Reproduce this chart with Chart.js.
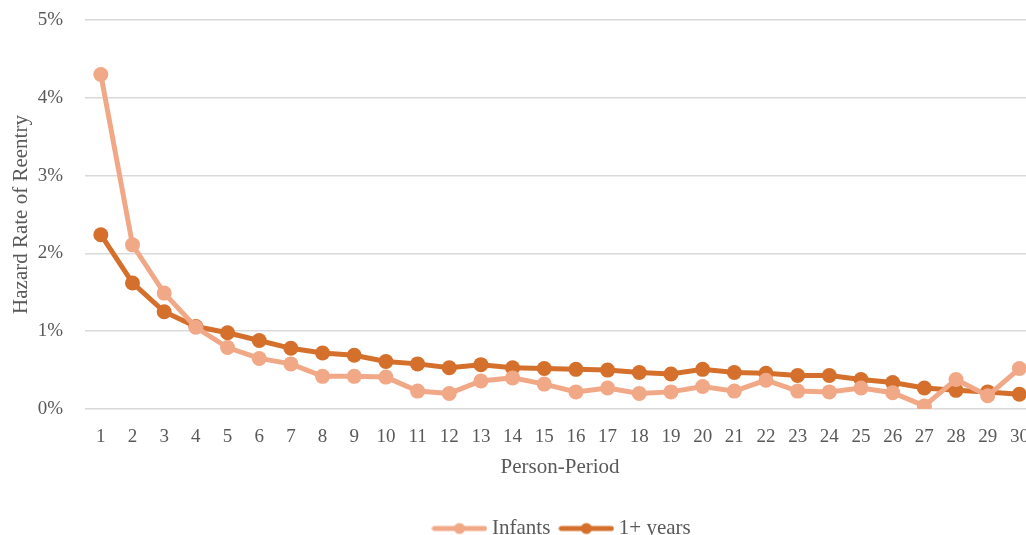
<!DOCTYPE html>
<html>
<head>
<meta charset="utf-8">
<script src="https://cdn.jsdelivr.net/npm/chart.js@4.4.1/dist/chart.umd.min.js"></script>
<style>
    html, body { margin: 0; padding: 0; background: #fff; overflow: hidden; }
    #wrap { position: relative; width: 1046px; height: 549px; }
</style>
</head>
<body>
<div id="wrap"><canvas id="hazardChart"></canvas></div>
<script>
// Person-period categories
const periods = [
    '1', '2', '3', '4', '5', '6', '7', '8', '9', '10',
    '11', '12', '13', '14', '15', '16', '17', '18', '19', '20',
    '21', '22', '23', '24', '25', '26', '27', '28', '29', '30'
];

// Hazard rates (%)
const infants = [
    4.30, 2.11, 1.49, 1.05, 0.79, 0.65, 0.58, 0.42, 0.42, 0.41,
    0.23, 0.20, 0.36, 0.40, 0.32, 0.22, 0.27, 0.20, 0.22, 0.29,
    0.23, 0.37, 0.23, 0.22, 0.27, 0.21, 0.04, 0.38, 0.17, 0.52
];

const oneYearPlus = [
    2.24, 1.62, 1.25, 1.06, 0.98, 0.88, 0.78, 0.72, 0.69, 0.61,
    0.58, 0.53, 0.57, 0.53, 0.52, 0.51, 0.50, 0.47, 0.45, 0.51,
    0.47, 0.46, 0.43, 0.43, 0.38, 0.34, 0.27, 0.24, 0.22, 0.19
];

const yTicks = [0, 1, 2, 3, 4, 5];

const lightColor = '#F1A887';
const darkColor = '#D4702C';
const textColor = '#595959';
const fontFamily = '"Liberation Serif", "Times New Roman", serif';

// legend marker: short line with a dot in the middle
function legendMarker(color) {
    const c = document.createElement('canvas');
    c.width = 56;
    c.height = 14;
    const g = c.getContext('2d');
    g.strokeStyle = color;
    g.lineWidth = 5;
    g.lineCap = 'round';
    g.beginPath();
    g.moveTo(3, 7);
    g.lineTo(53, 7);
    g.stroke();
    g.fillStyle = color;
    g.beginPath();
    g.arc(28, 7, 5.5, 0, Math.PI * 2);
    g.fill();
    return c;
}
const markers = [legendMarker(lightColor), legendMarker(darkColor)];

// keep the legend centred under the plot, like the original
const centreLegend = {
    id: 'centreLegend',
    beforeDraw(chart) {
        const lg = chart.legend;
        if (!lg) return;
        const cx = (chart.chartArea.left + chart.chartArea.right) / 2 + 4;
        const w = lg.right - lg.left;
        lg.left = cx - w / 2;
        lg.right = cx + w / 2;
    }
};

const ctx = document.getElementById('hazardChart').getContext('2d');

new Chart(ctx, {
    type: 'line',
    data: {
        labels: periods,
        datasets: [
            {
                label: 'Infants',
                data: infants,
                borderColor: lightColor,
                backgroundColor: lightColor,
                pointBackgroundColor: lightColor,
                pointBorderColor: lightColor,
                borderWidth: 5,
                pointRadius: 7.5,
                pointBorderWidth: 0,
                tension: 0
            },
            {
                label: '1+ years',
                data: oneYearPlus,
                borderColor: darkColor,
                backgroundColor: darkColor,
                pointBackgroundColor: darkColor,
                pointBorderColor: darkColor,
                borderWidth: 5,
                pointRadius: 7.5,
                pointBorderWidth: 0,
                tension: 0
            }
        ]
    },
    options: {
        responsive: true,
        maintainAspectRatio: false,
        animation: false,
        layout: {
            padding: { left: 5, right: 5, top: 20, bottom: 0 }
        },
        scales: {
            x: {
                offset: true,
                grid: { display: false, drawTicks: false },
                border: { display: false },
                ticks: {
                    color: textColor,
                    padding: 17,
                    maxRotation: 0,
                    autoSkip: false,
                    font: { family: fontFamily, size: 19 }
                },
                title: {
                    display: true,
                    text: 'Person-Period',
                    color: textColor,
                    font: { family: fontFamily, size: 21 },
                    padding: { top: -11, bottom: 24 }
                }
            },
            y: {
                min: 0,
                max: 5,
                afterBuildTicks: function(axis) {
                    axis.ticks = yTicks.map(v => ({ value: v }));
                },
                afterFit: function(axis) {
                    axis.width = 80;
                },
                grid: {
                    color: '#D9D9D9',
                    lineWidth: 1.5,
                    drawTicks: true,
                    tickLength: 22,
                    tickColor: 'rgba(0,0,0,0)'
                },
                border: { display: false },
                ticks: {
                    color: textColor,
                    padding: 0,
                    font: { family: fontFamily, size: 19 },
                    callback: function(value) {
                        return value + '%';
                    }
                },
                title: {
                    display: true,
                    text: 'Hazard Rate of Reentry',
                    color: textColor,
                    font: { family: fontFamily, size: 21 },
                    padding: { top: 4, bottom: 4 }
                }
            }
        },
        plugins: {
            legend: {
                position: 'bottom',
                labels: {
                    color: textColor,
                    usePointStyle: true,
                    pointStyleWidth: 44,
                    padding: 14,
                    font: { family: fontFamily, size: 21 },
                    generateLabels: function(chart) {
                        const items = Chart.defaults.plugins.legend.labels.generateLabels(chart);
                        items.forEach(function(item, i) {
                            item.pointStyle = markers[i];
                        });
                        return items;
                    }
                }
            },
            tooltip: { enabled: false }
        }
    },
    plugins: [centreLegend]
});
</script>
</body>
</html>
